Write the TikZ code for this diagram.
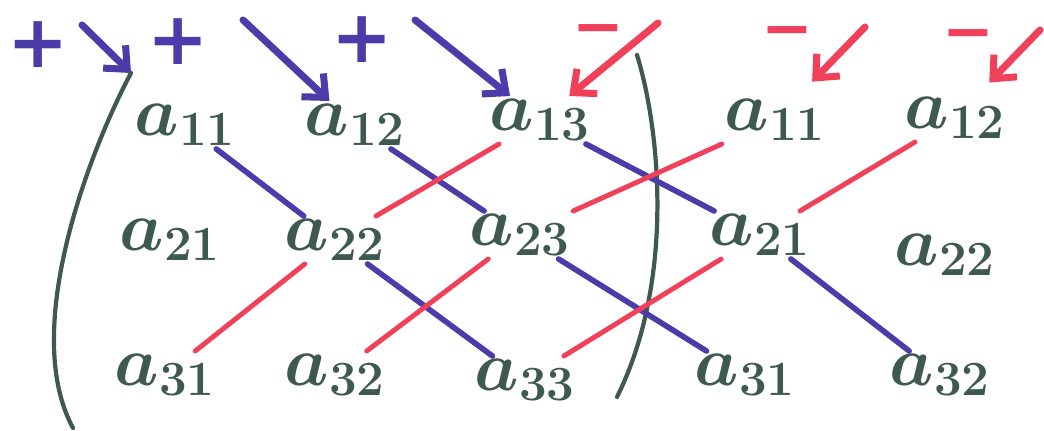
\RequirePackage{fix-cm}
\documentclass[tikz,border=0pt]{standalone}
\usepackage{fontspec}
\usepackage{tikz}
\usetikzlibrary{arrows.meta}
\newfontfamily\signfont{DejaVu Sans}
\definecolor{penblue}{RGB}{76,60,170}
\definecolor{penred}{RGB}{240,64,90}
\definecolor{pengreen}{RGB}{62,90,78}

\begin{document}
\begin{tikzpicture}[x=0.025cm,y=-0.025cm,
    entry/.style={text=pengreen,font=\fontsize{50}{54}\selectfont\boldmath,inner sep=2pt},
    sign/.style={font=\signfont\bfseries\fontsize{52}{52}\selectfont,inner sep=0pt},
    minussign/.style={font=\signfont\bfseries\fontsize{44}{44}\selectfont,inner sep=0pt},
    plusline/.style={penblue,line width=4pt,line cap=round},
    minusline/.style={penred,line width=3.5pt,line cap=round},
    pen/.style={line width=5pt,-{Straight Barb[length=0.45cm,width=0.8cm]}},
    bracket/.style={pengreen,line width=3pt,line cap=round}]
    \useasboundingbox (0,0) rectangle (1044,431);
    % the matrix
    \node[entry] (a11) at (185,125) {$a_{11}$};
    \node[entry] (a12) at (355,125) {$a_{12}$};
    \node[entry] (a13) at (540,120) {$a_{13}$};
    \node[entry] (a21) at (170,240) {$a_{21}$};
    \node[entry] (a22) at (335,240) {$a_{22}$};
    \node[entry] (a23) at (520,235) {$a_{23}$};
    \node[entry] (a31) at (165,375) {$a_{31}$};
    \node[entry] (a32) at (335,375) {$a_{32}$};
    \node[entry] (a33) at (525,380) {$a_{33}$};
    % first two columns again
    \node[entry] (b11) at (775,120) {$a_{11}$};
    \node[entry] (b12) at (955,118) {$a_{12}$};
    \node[entry] (b21) at (760,235) {$a_{21}$};
    \node[entry] (b22) at (945,255) {$a_{22}$};
    \node[entry] (b31) at (745,375) {$a_{31}$};
    \node[entry] (b32) at (940,375) {$a_{32}$};
    % signs
    \node[sign,text=penblue] (p1) at (38,45) {+};
    \node[sign,text=penblue] (p2) at (178,42) {+};
    \node[sign,text=penblue] (p3) at (362,40) {+};
    \node[minussign,text=penred] (m1) at (598,36) {−};
    \node[minussign,text=penred] (m2) at (787,38) {−};
    \node[minussign,text=penred] (m3) at (968,41) {−};
    % brackets
    \coordinate (top) at (131,73);
    \draw[bracket] (top) .. controls (90,150) and (20,330) .. (73,428);
    \draw[bracket] (637,55) .. controls (660,130) and (675,280) .. (617,397);
    % diagonals
    \draw[plusline] (a11) -- (a22);
    \draw[plusline] (a22) -- (a33);
    \draw[plusline] (a12) -- (a23);
    \draw[plusline] (a23) -- (b31);
    \draw[plusline] (a13) -- (b21);
    \draw[plusline] (b21) -- (b32);
    \draw[minusline] (a31) -- (a22);
    \draw[minusline] (a22) -- (a13);
    \draw[minusline] (a32) -- (a23);
    \draw[minusline] (a23) -- (b11);
    \draw[minusline] (a33) -- (b21);
    \draw[minusline] (b21) -- (b12);
    % arrows
    \coordinate (s1) at (82,25);
    \coordinate (s2) at (243,20);
    \coordinate (s3) at (415,20);
    \coordinate (t1) at (658,23);
    \coordinate (t2) at (865,27);
    \coordinate (t3) at (1040,30);
    \draw[plusline,pen] (s1) -- (top);
    \draw[plusline,pen] (s2) -- (a12);
    \draw[plusline,pen] (s3) -- (a13);
    \draw[minusline,pen] (t1) -- (a13);
    \draw[minusline,pen,shorten >=0.5cm] (t2) -- (b11);
    \draw[minusline,pen,shorten >=0.4cm] (t3) -- (b12);
  \end{tikzpicture}
\end{document}
